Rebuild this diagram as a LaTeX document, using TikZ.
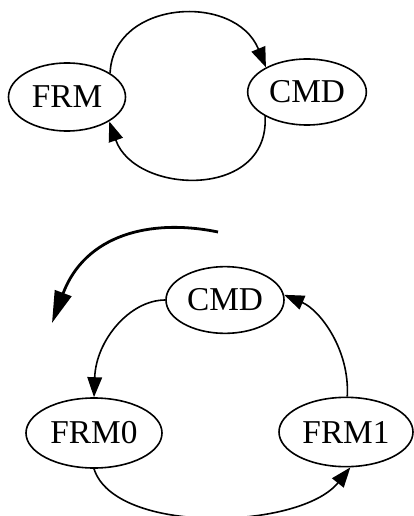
\documentclass[tikz,border=0pt]{standalone}
\usepackage{fontspec}
\setmainfont{Liberation Serif}
\usetikzlibrary{shapes.geometric, arrows.meta}

\begin{document}
\begin{tikzpicture}[x=0.75pt, y=-0.75pt,
    state/.style={draw, ellipse, line width=1.2pt, inner sep=0pt, font=\fontsize{25}{30}\selectfont},
    edge/.style={line width=1.2pt, -{Triangle[length=15pt, width=11pt]}},
    turn/.style={line width=2.1pt, -{Triangle[length=24pt, width=13pt]}}]
    \useasboundingbox (0,0) rectangle (413,516);
    % --- upper graph: two states ---
    \node[state, minimum width=87.75pt, minimum height=51pt] (frm) at (67,97) {FRM};
    \node[state, minimum width=89pt, minimum height=49.5pt] (cmd) at (307,92) {CMD};
    \draw[edge] (frm.29) .. controls (113,0) and (235,-8) .. (cmd.149);
    \draw[edge] (cmd.210) .. controls (270,200) and (135,195) .. (frm.330);

    % --- lower graph: three states ---
    \node[state, minimum width=88.5pt, minimum height=50pt] (cmd2) at (225,300) {CMD};
    \node[state, minimum width=102pt, minimum height=52.5pt] (frm0) at (94,433) {FRM0};
    \node[state, minimum width=100.5pt, minimum height=52pt] (frm1) at (346,432) {FRM1};
    \draw[edge] (cmd2.west) .. controls (130,300) and (96,340) .. (frm0.north);
    \draw[edge] (frm1.88) .. controls (350,350) and (320,310) .. (cmd2.5);
    \draw[edge] (frm0.south) .. controls (115,535) and (300,530) .. (frm1.-83);

    % --- direction arrow ---
    \coordinate (turnA) at (218,232);
    \coordinate (turnB) at (52,323);
    \draw[turn] (turnA) .. controls (150,218) and (85,235) .. (turnB);
\end{tikzpicture}
\end{document}
